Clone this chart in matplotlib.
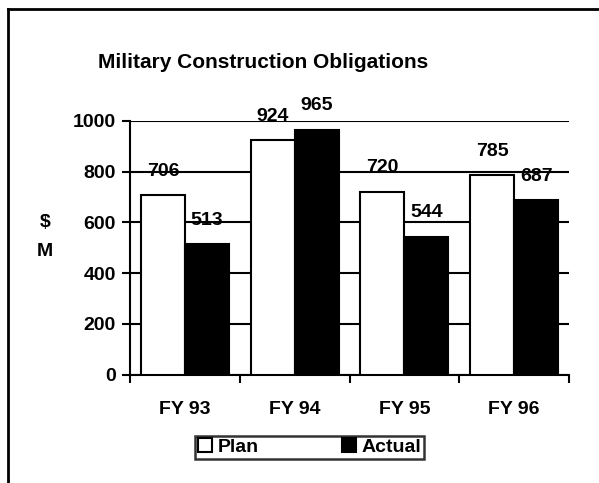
import matplotlib
matplotlib.use("Agg")
import matplotlib.pyplot as plt
from matplotlib.lines import Line2D
import numpy as np

plt.rcParams['font.family'] = ['Liberation Sans', 'DejaVu Sans']
plt.rcParams['font.weight'] = 'bold'

categories = ['FY 93', 'FY 94', 'FY 95', 'FY 96']
plan = [706, 924, 720, 785]
actual = [513, 965, 544, 687]
y_ticks = [0, 200, 400, 600, 800, 1000]

fig = plt.figure(figsize=(5.99, 4.83), dpi=100)
ax = fig.add_axes([0.217, 0.224, 0.733, 0.526])

x = np.arange(len(categories))
w = 0.4
b1 = ax.bar(x - w / 2, plan, w, color='white', edgecolor='black', linewidth=1.5,
            label='Plan', zorder=3)
b2 = ax.bar(x + w / 2, actual, w, color='black', edgecolor='black', linewidth=1.5,
            label='Actual', zorder=3)

# value labels sit well above the bar tops
for bars, vals in ((b1, plan), (b2, actual)):
    for r, v in zip(bars, vals):
        ax.annotate(str(v), (r.get_x() + r.get_width() / 2, v),
                    xytext=(0, 24), textcoords='offset pixels',
                    ha='center', va='center', fontsize=14, fontweight='bold',
                    zorder=4)

ax.set_xlim(-0.5, len(categories) - 0.5)
ax.set_ylim(0, 1000)
ax.set_yticks(y_ticks)
ax.set_yticklabels([str(t) for t in y_ticks], fontsize=14, fontweight='bold')
ax.yaxis.grid(True, color='black', linewidth=1.5, zorder=0)
ax.set_axisbelow(True)

ax.set_xticks(x)
ax.set_xticklabels(categories, fontsize=14, fontweight='bold')
ax.set_xticks(np.arange(len(categories) + 1) - 0.5, minor=True)
ax.tick_params(axis='x', which='major', length=0, pad=19)
ax.tick_params(axis='x', which='minor', length=6, width=1.5, direction='out')
ax.tick_params(axis='y', length=6, width=1.5, direction='out', pad=4)

for s in ('top', 'right'):
    ax.spines[s].set_visible(False)
for s in ('left', 'bottom'):
    ax.spines[s].set_linewidth(1.5)

fig.text(0.44, 0.87, 'Military Construction Obligations', ha='center', va='center',
         fontsize=15, fontweight='bold')
fig.text(0.075, 0.51, '$\nM', ha='center', va='center', fontsize=14,
         fontweight='bold', linespacing=1.9)

leg = fig.legend(handles=[b1, b2], loc='center', bbox_to_anchor=(0.517, 0.074),
                 ncol=2, fontsize=14, frameon=True, fancybox=False,
                 handlelength=0.7, handleheight=0.7, handletextpad=0.3,
                 columnspacing=4.3, borderpad=0.15, borderaxespad=0)
leg.get_frame().set_edgecolor('black')
leg.get_frame().set_linewidth(1.8)

# page border on the left and top
fig.add_artist(Line2D([0.013, 0.013], [0.0, 0.981], color='black', linewidth=2,
                      transform=fig.transFigure))
fig.add_artist(Line2D([0.013, 1.0], [0.981, 0.981], color='black', linewidth=2,
                      transform=fig.transFigure))

fig.savefig('out.png', dpi=100)
